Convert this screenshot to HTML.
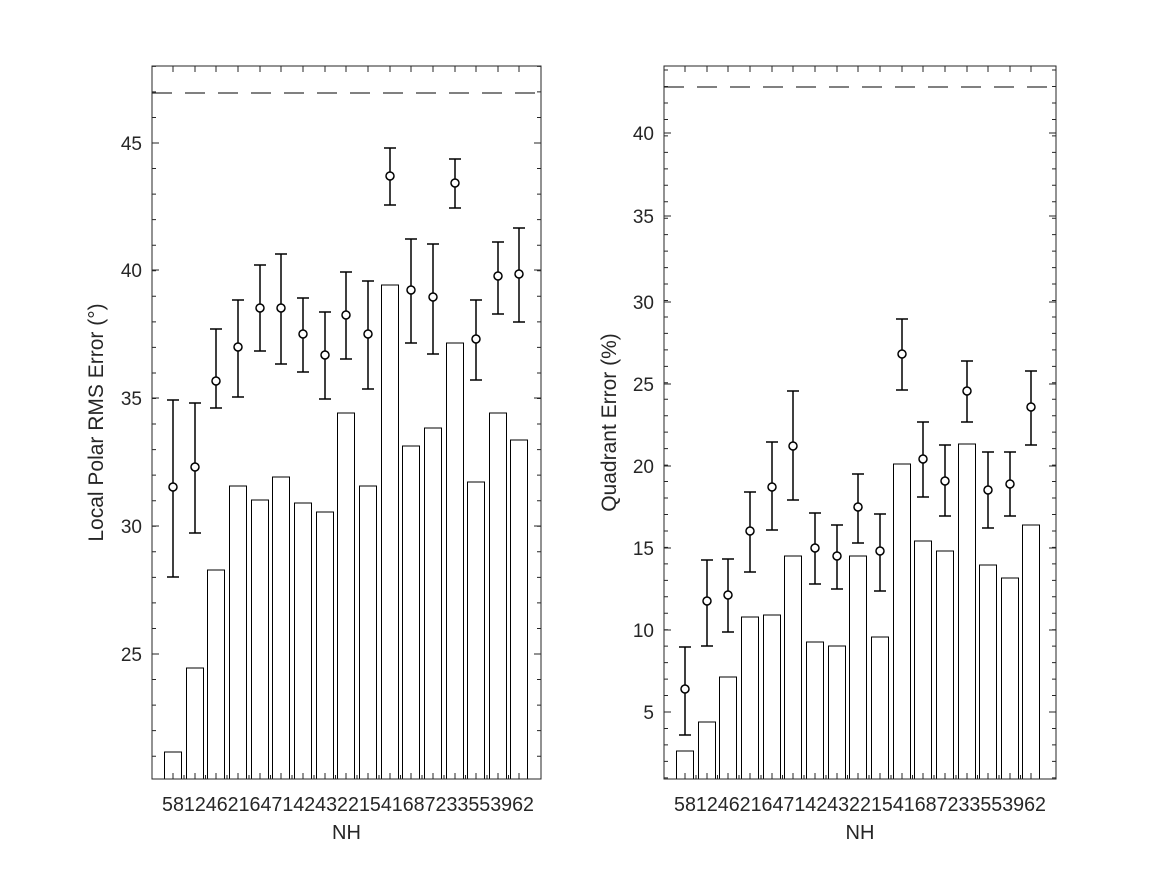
<!DOCTYPE html><html><head><style>body{margin:0;background:#fff}svg{display:block}text{font-family:"Liberation Sans","DejaVu Sans",sans-serif;fill:#262626}</style></head><body>
<svg id="s" width="1167" height="875" xmlns="http://www.w3.org/2000/svg"></svg>
<script>
const s=document.getElementById('s');let h='';
function ax(x0,x1,y0,y1,centers,bars,circ,dash,ymaj,yminStep,ylab,ylabel,labx){
 h+=`<rect x="${x0}" y="${y0}" width="${x1-x0}" height="${y1-y0}" fill="#fff"/>`;
 bars.forEach((t,i)=>{h+=`<rect x="${centers[i]-8.5}" y="${t}" width="17" height="${y1-t}" fill="#fff" stroke="#000" stroke-width="1"/>`});
 h+=`<line x1="${x0}" x2="${x1}" y1="${dash}" y2="${dash}" stroke="#000" stroke-dasharray="20,13"/>`;
 circ.forEach((c,i)=>{const x=centers[i];h+=`<g stroke="#000" stroke-width="1.5" fill="none"><line x1="${x}" x2="${x}" y1="${c[1]}" y2="${c[2]}"/><line x1="${x-6}" x2="${x+6}" y1="${c[1]}" y2="${c[1]}"/><line x1="${x-6}" x2="${x+6}" y1="${c[2]}" y2="${c[2]}"/><circle cx="${x}" cy="${c[0]}" r="4" fill="#fff"/></g>`});
 let tk='';
 centers.forEach(x=>{tk+=`M${x},${y0}v6M${x},${y1}v-6`;});
 for(let i=0;i<centers.length-1;i++){const x=(centers[i]+centers[i+1])/2;tk+=`M${x},${y1}v-4`;}
 ymaj.forEach(([v,y])=>{tk+=`M${x0},${y}h7M${x1},${y}h-7`;h+=`<text x="${x0-10}" y="${y+7}" font-size="19" text-anchor="end">${v}</text>`});
 for(let y=ymaj[0][1];y>y0;y-=yminStep)tk+=`M${x0},${y}h4M${x1},${y}h-4`;
 for(let y=ymaj[0][1];y<y1;y+=yminStep)tk+=`M${x0},${y}h4M${x1},${y}h-4`;
 h+=`<path d="${tk}" stroke="#262626" stroke-width="1"/>`;
 h+=`<rect x="${x0}" y="${y0}" width="${x1-x0}" height="${y1-y0}" fill="none" stroke="#262626" stroke-width="1"/>`;
 h+=`<text x="${centers[0]-11}" y="811" font-size="20" textLength="${centers[16]-centers[0]+26}" lengthAdjust="spacingAndGlyphs">5812462164714243221541687233553962</text>`;
 h+=`<text x="${(x0+x1)/2}" y="839" font-size="20" text-anchor="middle">NH</text>`;
 h+=`<text transform="translate(${labx},${(y0+y1)/2}) rotate(-90)" font-size="21" text-anchor="middle">${ylabel}</text>`;
}
const cl=[173,195,216,238,260,281,303,325,346,368,390,411,433,455,476,498,519];
ax(152,541,66,779,cl,[752,668,570,486,500,477,503,512,413,486,285,446,428,343,482,413,440],
[[487,400,577],[467,403,533],[381,329,408],[347,300,397],[308,265,351],[308,254,364],[334,298,372],[355,312,399],[315,272,359],[334,281,389],[176,148,205],[290,239,343],[297,244,354],[183,159,208],[339,300,380],[276,242,314],[274,228,322]],
93,[[25,654],[30,526],[35,398],[40,270],[45,143]],25.55,0,'Local Polar RMS Error (°)',103);
const cr=cl.map(x=>x+512);
ax(664,1056,66,779,cr,[751,722,677,617,615,556,642,646,556,637,464,541,551,444,565,578,525],
[[689,647,735],[601,560,646],[595,559,632],[531,492,572],[487,442,530],[446,391,500],[548,513,584],[556,525,589],[507,474,543],[551,514,591],[354,319,390],[459,422,497],[481,445,516],[391,361,422],[490,452,528],[484,452,516],[407,371,445]],
87,[[5,712],[10,630],[15,548],[20,466],[25,384],[30,302],[35,216],[40,133]],16.46,0,'Quadrant Error (%)',616);
s.innerHTML=h;
</script></body></html>
